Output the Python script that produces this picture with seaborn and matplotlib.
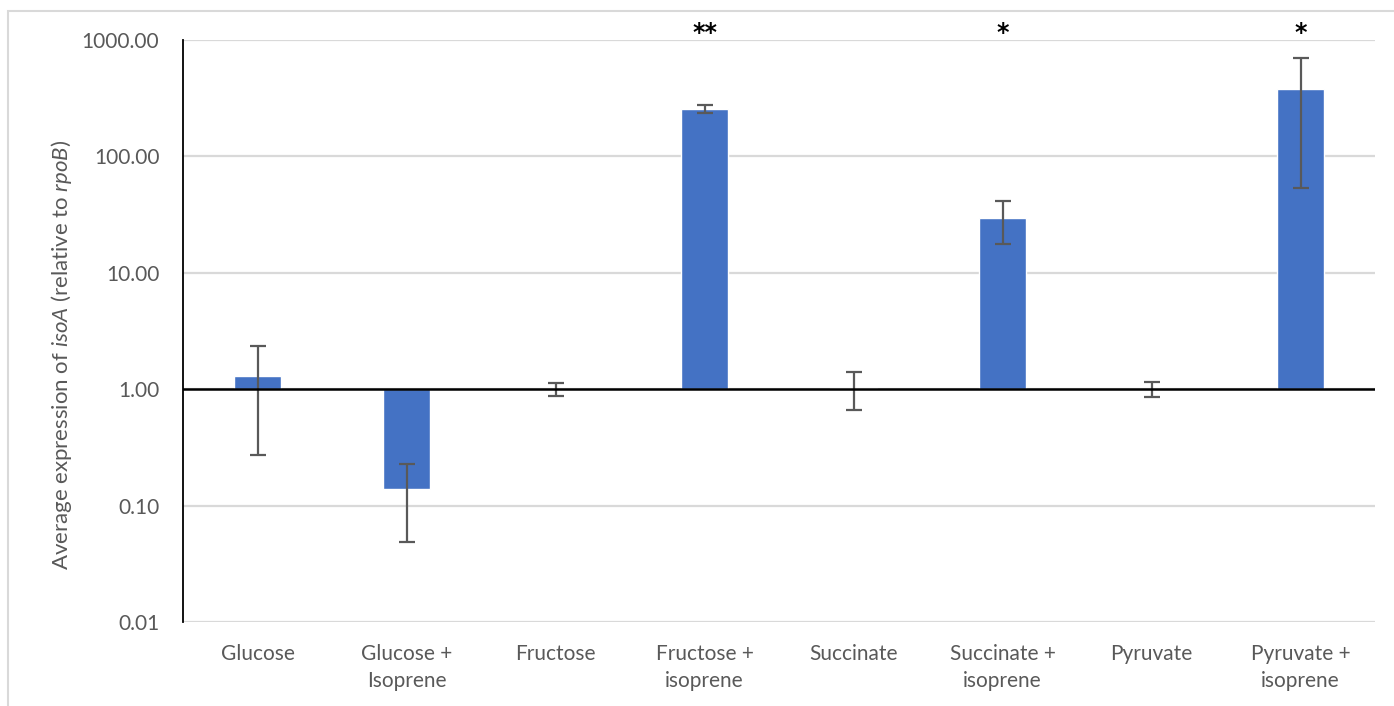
import numpy as np
import pandas as pd
import matplotlib
matplotlib.use("Agg")
import matplotlib.pyplot as plt
from matplotlib.patches import Rectangle
import seaborn as sns

# Expression of isoA relative to rpoB for each growth condition
categories = ["Glucose", "Glucose +\nIsoprene", "Fructose", "Fructose +\nisoprene",
              "Succinate", "Succinate +\nisoprene", "Pyruvate", "Pyruvate +\nisoprene"]
mean_expr = [1.29, 0.138, 1.0, 254.0, 1.03, 29.3, 1.0, 376.0]
err_low = [0.27, 0.049, 0.88, 236.0, 0.66, 17.7, 0.85, 53.3]
err_high = [2.34, 0.227, 1.12, 275.0, 1.41, 41.2, 1.16, 702.0]
significance = ["", "", "", "**", "", "*", "", "*"]
y_ticks = [0.01, 0.1, 1, 10, 100, 1000]

sns.set_theme(style="white")
plt.rcParams["font.family"] = ["Lato", "DejaVu Sans"]
plt.rcParams["mathtext.fontset"] = "custom"
plt.rcParams["mathtext.rm"] = "Lato"
plt.rcParams["mathtext.it"] = "Lato:italic"

text_grey = "#595959"
bar_blue = "#4472C4"
grid_grey = "#D9D9D9"

fig = plt.figure(figsize=(13.94, 7.06), dpi=100)
ax = fig.add_axes([183 / 1394, 1 - 622 / 706, (1375 - 183) / 1394, (622 - 40) / 706])

# Bars grow from the 1.0 baseline, so draw them in log10 space
df = pd.DataFrame({"condition": categories, "log_expr": np.log10(mean_expr)})
sns.barplot(data=df, x="condition", y="log_expr", color=bar_blue, width=0.315,
            saturation=1, ax=ax, zorder=3)

x = np.arange(len(categories))
logm = np.log10(mean_expr)
lo = logm - np.log10(err_low)
hi = np.log10(err_high) - logm
ax.errorbar(x, logm, yerr=[lo, hi], fmt="none", ecolor=text_grey, elinewidth=1.6,
            capsize=5.5, capthick=1.6, zorder=4)

ax.set_ylim(-2, 3)
ax.set_xlim(-0.5, len(categories) - 0.5)
ax.set_yticks(np.log10(y_ticks))
ax.set_yticklabels([f"{t:.2f}" for t in y_ticks])
for t in np.log10(y_ticks):
    ax.axhline(t, color=grid_grey, lw=1.6, zorder=1)
ax.axhline(0, color="black", lw=1.8, zorder=5)

for i, s in enumerate(significance):
    if s:
        ax.text(i, 3.06, s, ha="center", va="center", fontsize=17, fontweight="bold",
                family="DejaVu Sans", color="black", clip_on=False)

for side in ["top", "right", "bottom"]:
    ax.spines[side].set_visible(False)
ax.spines["left"].set_color("black")
ax.spines["left"].set_linewidth(1.3)

ax.tick_params(axis="y", length=0, pad=17, labelsize=15, labelcolor=text_grey)
ax.tick_params(axis="x", length=0, pad=16, labelsize=15, labelcolor=text_grey)
for lab in ax.get_xticklabels():
    lab.set_linespacing(1.45)
ax.set_xlabel("")
ylab = ax.set_ylabel(r"Average expression of $\mathit{isoA}$ (relative to $\mathit{rpoB}$)",
                     fontsize=16, color=text_grey)
ylab.set_va("center")
ax.yaxis.set_label_coords((62 - 183) / 1192, 1 - (355 - 40) / 582)

# Light frame around the chart area
fig.patches.append(Rectangle((8 / 1394, -0.1), 1.2, 1 - 11 / 706 + 0.1,
                             transform=fig.transFigure, fill=False,
                             edgecolor=grid_grey, lw=1.5))

fig.savefig("out.png", dpi=100)
